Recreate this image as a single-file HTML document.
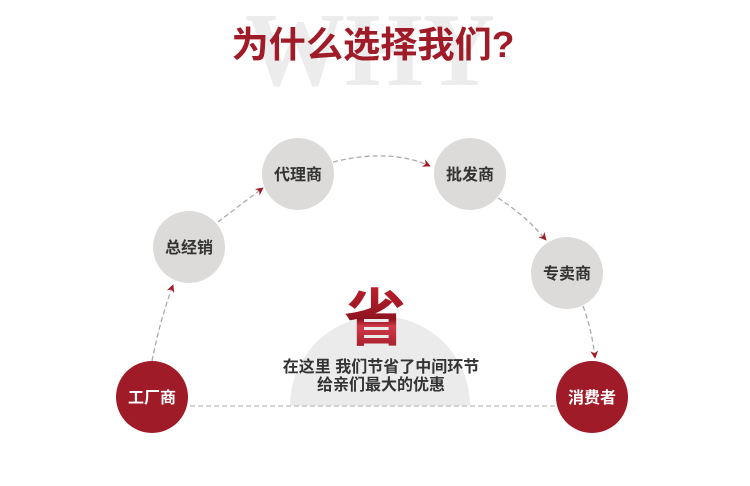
<!DOCTYPE html>
<html><head><meta charset="utf-8"><style>
body{margin:0;background:#fff;}
svg{display:block}
text{font-family:"Liberation Sans","Noto Sans CJK SC",sans-serif;}
</style></head><body>
<svg width="750" height="486" viewBox="0 0 750 486" xmlns="http://www.w3.org/2000/svg">
<defs>
<marker id="ar" viewBox="0 0 10 10" refX="9" refY="5" markerWidth="8" markerHeight="8" markerUnits="userSpaceOnUse" orient="auto"><path d="M0,0 L10,5 L0,10 L3,5z" fill="#a01b28"/></marker>
<linearGradient id="sg" x1="0" y1="0" x2="0" y2="1"><stop offset="0" stop-color="#c0202e"/><stop offset="0.5" stop-color="#8e1420"/><stop offset="0.6" stop-color="#d03a48"/><stop offset="1" stop-color="#9a1622"/></linearGradient>
</defs>
<text x="370" y="85" text-anchor="middle" font-weight="bold" font-size="105" fill="#ececec" style="font-family:'Liberation Serif',serif" textLength="250" lengthAdjust="spacingAndGlyphs">WHY</text>
<text x="373" y="57" text-anchor="middle" font-size="36" font-weight="bold" fill="#a01b28" textLength="283" lengthAdjust="spacingAndGlyphs">为什么选择我们?</text>
<path d="M290,406 A90,90 0 0 1 470,406 Z" fill="#ebebeb"/>
<line x1="190" y1="406" x2="556" y2="406" stroke="#c8c8c8" stroke-width="1.5" stroke-dasharray="5,3"/>
<text x="375" y="340" text-anchor="middle" font-size="62" font-weight="bold" fill="url(#sg)">省</text>
<text x="381" y="372" text-anchor="middle" font-size="16" font-weight="bold" fill="#333">在这里 我们节省了中间环节</text>
<text x="381" y="390" text-anchor="middle" font-size="16" font-weight="bold" fill="#333">给亲们最大的优惠</text>
<g fill="none" stroke="#aaa" stroke-width="1.3" stroke-dasharray="5,3">
<path d="M152,361 Q160,320 173,285" marker-end="url(#ar)"/>
<path d="M218,222 Q240,205 263,188" marker-end="url(#ar)"/>
<path d="M333,162 Q390,148 430,166" marker-end="url(#ar)"/>
<path d="M498,198 Q525,215 546,240" marker-end="url(#ar)"/>
<path d="M583,306 Q592,330 595,358" marker-end="url(#ar)"/>
</g>
<g font-size="16" font-weight="bold" text-anchor="middle">
<circle cx="152" cy="397" r="36" fill="#a01b28"/><text x="152" y="403" fill="#fff">工厂商</text>
<circle cx="592" cy="397" r="36" fill="#a01b28"/><text x="592" y="403" fill="#fff">消费者</text>
<circle cx="189" cy="247" r="36" fill="#dcdbd9"/><text x="189" y="253" fill="#333">总经销</text>
<circle cx="298" cy="174" r="36" fill="#dcdbd9"/><text x="298" y="180" fill="#333">代理商</text>
<circle cx="470" cy="174" r="36" fill="#dcdbd9"/><text x="470" y="180" fill="#333">批发商</text>
<circle cx="567" cy="273" r="36" fill="#dcdbd9"/><text x="567" y="279" fill="#333">专卖商</text>
</g>
</svg>
</body></html>
